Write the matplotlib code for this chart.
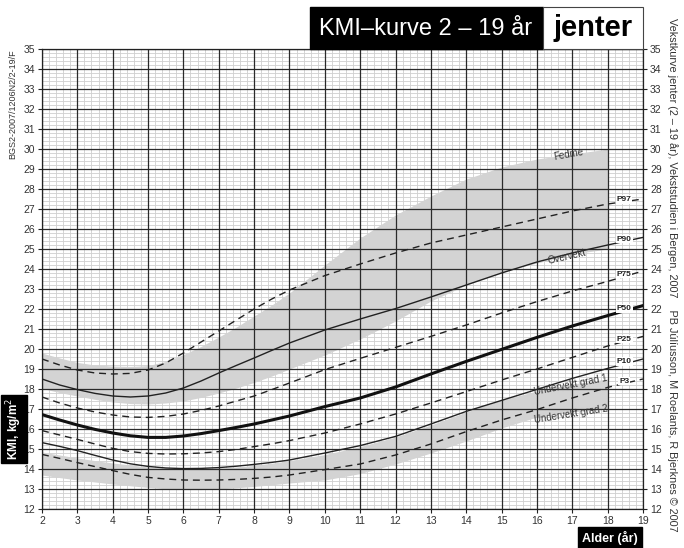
import matplotlib
matplotlib.use('Agg')
import matplotlib.pyplot as plt
import numpy as np
from matplotlib.patches import Rectangle
from matplotlib.ticker import MultipleLocator

plt.rcParams['font.family'] = ['Liberation Sans', 'DejaVu Sans']

# ---- data ----
ages = [2, 2.5, 3, 3.5, 4, 4.5, 5, 5.5, 6, 6.5, 7, 7.5, 8, 8.5, 9,
        10, 11, 12, 13, 14, 15, 16, 17, 18, 19]
p97 = [19.5, 19.2, 18.95, 18.8, 18.75, 18.78, 18.95, 19.3, 19.8, 20.35, 20.9, 21.45, 22.0, 22.5, 22.95,
       23.67, 24.25, 24.8, 25.3, 25.7, 26.1, 26.5, 26.9, 27.25, 27.5]
p90 = [18.5, 18.2, 17.97, 17.78, 17.65, 17.6, 17.65, 17.8, 18.05, 18.4, 18.8, 19.18, 19.55, 19.93, 20.3,
       20.95, 21.5, 22.02, 22.6, 23.2, 23.8, 24.35, 24.8, 25.2, 25.58]
p75 = [17.6, 17.3, 17.05, 16.85, 16.7, 16.6, 16.58, 16.63, 16.75, 16.93, 17.15, 17.4, 17.65, 17.97, 18.3,
       18.97, 19.53, 20.08, 20.63, 21.2, 21.8, 22.37, 22.9, 23.38, 23.9]
p50 = [16.72, 16.45, 16.2, 15.98, 15.8, 15.66, 15.58, 15.58, 15.65, 15.77, 15.92, 16.08, 16.25, 16.45, 16.65,
       17.12, 17.55, 18.1, 18.75, 19.38, 19.98, 20.58, 21.15, 21.67, 22.17]
p25 = [15.92, 15.7, 15.48, 15.25, 15.03, 14.87, 14.78, 14.75, 14.76, 14.8, 14.87, 14.98, 15.12, 15.26, 15.42,
       15.8, 16.25, 16.75, 17.3, 17.87, 18.45, 19.0, 19.58, 20.15, 20.63]
p10 = [15.32, 15.13, 14.92, 14.68, 14.45, 14.26, 14.13, 14.05, 14.02, 14.03, 14.07, 14.14, 14.23, 14.33, 14.45,
       14.8, 15.17, 15.63, 16.25, 16.88, 17.43, 17.98, 18.53, 19.03, 19.5]
p3 = [14.73, 14.53, 14.32, 14.12, 13.92, 13.73, 13.58, 13.5, 13.45, 13.44, 13.45, 13.48, 13.53, 13.6, 13.7,
      13.97, 14.25, 14.7, 15.25, 15.87, 16.45, 16.97, 17.55, 18.08, 18.5]

band_ages = [2, 2.5, 3, 3.5, 4, 4.5, 5, 5.5, 6, 6.5, 7, 7.5, 8, 8.5, 9,
             10, 11, 12, 13, 14, 15, 16, 17, 18]
obese_edge = [19.8, 19.55, 19.33, 19.2, 19.15, 19.13, 19.17, 19.38, 19.72, 20.13, 20.6, 21.1, 21.65, 22.2, 22.8,
              24.2, 25.55, 26.7, 27.65, 28.5, 29.1, 29.5, 29.75, 30.0]
overweight_edge = [18.03, 17.82, 17.65, 17.48, 17.35, 17.27, 17.25, 17.3, 17.4, 17.58, 17.8, 18.05, 18.33, 18.65, 19.0,
                   19.7, 20.5, 21.4, 22.4, 23.2, 23.85, 24.3, 24.75, 25.0]
thin1_edge = [14.85, 14.7, 14.55, 14.42, 14.3, 14.2, 14.1, 14.04, 14.0, 14.01, 14.05, 14.1, 14.18, 14.29, 14.42,
              14.72, 15.12, 15.6, 16.2, 16.85, 17.45, 17.9, 18.25, 18.5]
thin2_edge = [13.7, 13.57, 13.45, 13.35, 13.25, 13.16, 13.08, 13.01, 12.97, 12.97, 13.0, 13.06, 13.13, 13.21, 13.3,
              13.45, 13.77, 14.25, 14.8, 15.4, 16.05, 16.6, 16.85, 17.0]

x_ticks = list(range(2, 20))
y_ticks = list(range(12, 36))

# ---- figure ----
W, H = 684, 548
fig = plt.figure(figsize=(W / 100, H / 100), dpi=100)
L, R, T, B = 42, 643, 49, 509
ax = fig.add_axes([L / W, 1 - B / H, (R - L) / W, (B - T) / H])
ax.set_xlim(2, 19)
ax.set_ylim(12, 35)

ax.set_axisbelow(True)
ax.xaxis.set_minor_locator(MultipleLocator(0.2))
ax.yaxis.set_minor_locator(MultipleLocator(0.2))
ax.grid(which='minor', color='#cfcfcf', lw=0.6)
ax.grid(which='major', visible=False)

# bands
ax.fill_between(band_ages, overweight_edge, obese_edge, color='#d3d3d3', lw=0, zorder=1)
ax.fill_between(band_ages, thin2_edge, thin1_edge, color='#d3d3d3', lw=0, zorder=1)

# major grid on top of bands
for v in x_ticks:
    ax.axvline(v, color='#2a2a2a', lw=0.9, zorder=1.5)
for v in y_ticks:
    ax.axhline(v, color='#2a2a2a', lw=0.9, zorder=1.5)

dash = (0, (5, 3.5))
ax.plot(ages, p97, color='#222', lw=1.0, ls=dash, zorder=3)
ax.plot(ages, p90, color='#222', lw=1.0, zorder=3)
ax.plot(ages, p75, color='#222', lw=1.0, ls=dash, zorder=3)
ax.plot(ages, p50, color='#111', lw=2.2, zorder=3)
ax.plot(ages, p25, color='#222', lw=1.0, ls=dash, zorder=3)
ax.plot(ages, p10, color='#222', lw=1.0, zorder=3)
ax.plot(ages, p3, color='#222', lw=1.0, ls=dash, zorder=3)

# percentile labels
lab_x = 18.47
for name, vals in [('P97', p97), ('P90', p90), ('P75', p75), ('P50', p50),
                   ('P25', p25), ('P10', p10), ('P3', p3)]:
    yv = np.interp(lab_x, ages, vals)
    ax.text(lab_x, yv + 0.12, name, fontsize=6, fontweight='bold', ha='center', va='center',
            color='#222', zorder=4,
            bbox=dict(boxstyle='square,pad=0.1', fc='white', ec='none'))

ax.text(16.9, 29.72, 'Fedme', fontsize=7, rotation=10, ha='center', va='center', color='#333', zorder=4)
ax.text(16.85, 24.6, 'Overvekt', fontsize=7, rotation=13, ha='center', va='center', color='#333', zorder=4)
ax.text(16.95, 18.2, 'Undervekt grad 1', fontsize=7, rotation=11, ha='center', va='center', color='#333', zorder=4)
ax.text(16.95, 16.72, 'Undervekt grad 2', fontsize=7, rotation=9, ha='center', va='center', color='#333', zorder=4)

ax.set_xticks(x_ticks)
ax.set_yticks(y_ticks)
ax.tick_params(axis='both', which='major', labelsize=7.5, labelcolor='#333', length=3,
               width=0.8, color='#222', pad=2)
ax.tick_params(axis='y', which='both', right=True, labelright=True)
ax.tick_params(which='minor', length=0)
for s in ax.spines.values():
    s.set_color('#222')
    s.set_linewidth(0.9)

# title boxes
fig.patches.append(Rectangle((310 / W, 1 - 49 / H), (543 - 310) / W, 42 / H,
                             transform=fig.transFigure, fc='black', ec='black', zorder=5))
fig.patches.append(Rectangle((543 / W, 1 - 49 / H), (643 - 543) / W, 42 / H,
                             transform=fig.transFigure, fc='white', ec='#444', lw=0.8, zorder=5))
fig.text(426 / W, 1 - 29 / H, 'KMI–kurve 2 – 19 år', color='white', fontsize=17,
         ha='center', va='center', zorder=6)
fig.text(593 / W, 1 - 28 / H, 'jenter', color='black', fontsize=21, fontweight='bold',
         ha='center', va='center', zorder=6)

# side texts
fig.text(13 / W, 1 - 104 / H, 'BGS2-2007/1206N2/2-19/F', rotation=90, fontsize=6.5,
         ha='center', va='center', color='#333')
fig.text(14 / W, 1 - 429 / H, 'KMI, kg/m$^2$', rotation=90, fontsize=8.5, fontweight='bold',
         color='white', ha='center', va='center',
         bbox=dict(boxstyle='square,pad=0.25', fc='black', ec='black'))
fig.text(672 / W, 1 - 275 / H,
         'Vekstkurve jenter (2 – 19 år), Vekststudien i Bergen, 2007    PB Júlíusson, M Roelants, R Bjerknes © 2007',
         rotation=-90, fontsize=7.8, ha='center', va='center', color='#333')
fig.text(610 / W, 1 - 538 / H, 'Alder (år)', fontsize=9, fontweight='bold', color='white',
         ha='center', va='center',
         bbox=dict(boxstyle='square,pad=0.35', fc='black', ec='black'))

fig.savefig('out.png', dpi=100)
